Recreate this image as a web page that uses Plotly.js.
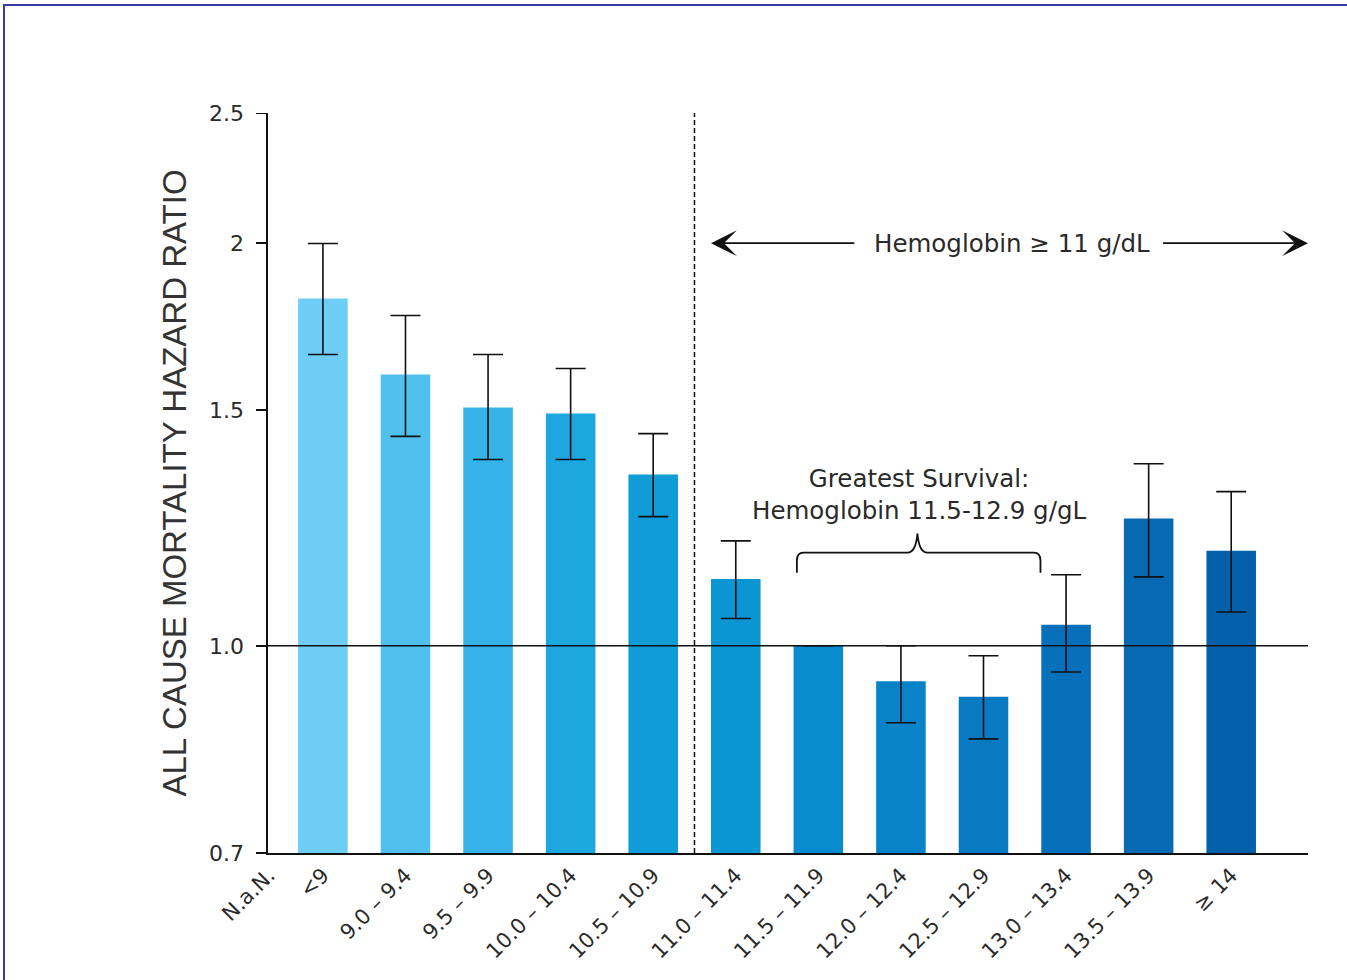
<!DOCTYPE html>
<html>
<head>
<meta charset="utf-8">
<script src="https://cdn.plot.ly/plotly-3.0.1.min.js"></script>
<style>
  html, body { margin: 0; padding: 0; background: #ffffff; }
  #chart { width: 1347px; height: 980px; }
  #frame { position: absolute; left: 3px; top: 4px; width: 1400px; height: 1000px;
           border-top: 2px solid #3b3ba6; border-left: 2px solid #3b3ba6; pointer-events: none; }
</style>
</head>
<body>
<div id="chart"></div>
<div id="frame"></div>
<script>
// ---- data ----
const tickLabels = ['N.a.N.', '<9', '9.0 – 9.4', '9.5 – 9.9', '10.0 – 10.4', '10.5 – 10.9',
  '11.0 – 11.4', '11.5 – 11.9', '12.0 – 12.4', '12.5 – 12.9', '13.0 – 13.4', '13.5 – 13.9', '≥ 14'];
const categories = ['<9', '9.0 – 9.4', '9.5 – 9.9', '10.0 – 10.4', '10.5 – 10.9',
  '11.0 – 11.4', '11.5 – 11.9', '12.0 – 12.4', '12.5 – 12.9', '13.0 – 13.4', '13.5 – 13.9', '≥ 14'];
const hazardRatio = [1.818, 1.595, 1.507, 1.492, 1.343, 1.122, 1.000, 0.941, 0.916, 1.037, 1.245, 1.178];
const ciUpper     = [1.999, 1.766, 1.651, 1.612, 1.441, 1.198, null, 1.000, 0.983, 1.130, 1.368, 1.304];
const ciLower     = [1.651, 1.434, 1.378, 1.378, 1.249, 1.048, null, 0.876, 0.852, 0.956, 1.126, 1.060];
const barColors = ['#6dcdf4', '#50c1ee', '#35b3e6', '#1ca8df', '#0f9cd7', '#0b95d3',
  '#098ccf', '#0883c8', '#077ac1', '#0671ba', '#0669b2', '#0560aa'];
const yTickVals = [0.7, 1.0, 1.5, 2, 2.5];
const yTickText = ['0.7', '1.0', '1.5', '2', '2.5'];

// ---- build ----
const xPos = categories.map((c, i) => i + 1);
const xTickVals = [0.345].concat(xPos);
const errPlus = hazardRatio.map((v, i) => ciUpper[i] === null ? null : ciUpper[i] - v);
const errMinus = hazardRatio.map((v, i) => ciLower[i] === null ? null : v - ciLower[i]);

const trace = {
  type: 'bar',
  x: xPos,
  y: hazardRatio,
  width: 0.6,
  text: categories,
  hoverinfo: 'text+y',
  textposition: 'none',
  marker: { color: barColors, line: { width: 0 } },
  error_y: { type: 'data', symmetric: false, array: errPlus, arrayminus: errMinus,
             color: '#111111', thickness: 1.6, width: 15 },
  showlegend: false
};

const L = Math.log10;
const fontMain = 'DejaVu Sans, Liberation Sans, Arial, sans-serif';
const txtColor = '#2a2a2a';

// brace geometry (data units)
const bx0 = 6.74, bx1 = 9.69, bm = 8.2;
const yTip = 1.134, yBase = 1.174, yPeak = 1.213, yBend = 1.158;
const bracePath = `M${bx0},${yTip} L${bx0},${yBend} Q${bx0},${yBase} ${bx0 + 0.08},${yBase} ` +
  `L${bm - 0.12},${yBase} Q${bm - 0.02},${yBase} ${bm},${yPeak} ` +
  `Q${bm + 0.02},${yBase} ${bm + 0.12},${yBase} L${bx1 - 0.08},${yBase} ` +
  `Q${bx1},${yBase} ${bx1},${yBend} L${bx1},${yTip}`;

const layout = {
  width: 1347, height: 980,
  margin: { l: 268, r: 39, t: 113, b: 127 },
  paper_bgcolor: 'rgba(0,0,0,0)',
  plot_bgcolor: 'rgba(0,0,0,0)',
  bargap: 0.4,
  font: { family: fontMain, color: txtColor, size: 20 },
  xaxis: {
    type: 'linear',
    range: [0.335, 12.93],
    tickmode: 'array', tickvals: xTickVals, ticktext: tickLabels,
    tickangle: -45, ticks: '', showgrid: false, zeroline: false,
    showline: true, linecolor: '#111111', linewidth: 1.6,
    tickfont: { family: fontMain, size: 21, color: '#2a2a2a' },
    fixedrange: true
  },
  yaxis: {
    type: 'log',
    range: [L(0.7), L(2.5) + 0.0004],
    tickmode: 'array', tickvals: yTickVals, ticktext: yTickText,
    ticks: 'outside', ticklen: 10, tickwidth: 1.6, tickcolor: '#111111',
    ticklabelstandoff: 8,
    showline: true, linecolor: '#111111', linewidth: 1.6,
    showgrid: false, zeroline: false,
    tickfont: { family: fontMain, size: 22, color: '#2a2a2a' },
    title: { text: 'ALL CAUSE MORTALITY HAZARD RATIO', standoff: 12,
             font: { family: 'Liberation Sans, Arial, sans-serif', size: 33, color: '#333333' } },
    fixedrange: true
  },
  shapes: [
    { type: 'line', xref: 'paper', yref: 'y', x0: 0, x1: 1, y0: 1.0, y1: 1.0,
      line: { color: '#111111', width: 1.6 } },
    { type: 'line', xref: 'x', yref: 'paper', x0: 5.5, x1: 5.5, y0: 0, y1: 1,
      line: { color: '#111111', width: 1.5, dash: '5px,3px' } },
    { type: 'path', xref: 'x', yref: 'y', path: bracePath,
      line: { color: '#111111', width: 1.8 } }
  ],
  annotations: [
    { xref: 'x', yref: 'y', x: 5.70, y: L(2.0), axref: 'x', ayref: 'y', ax: 7.49, ay: L(2.0),
      text: ' ', showarrow: true, arrowhead: 3, arrowsize: 2.4, arrowwidth: 1.8, arrowcolor: '#111111' },
    { xref: 'x', yref: 'y', x: 12.93, y: L(2.0), axref: 'x', ayref: 'y', ax: 11.12, ay: L(2.0),
      text: ' ', showarrow: true, arrowhead: 3, arrowsize: 2.4, arrowwidth: 1.8, arrowcolor: '#111111' },
    { xref: 'x', yref: 'y', x: 9.35, y: L(2.0), text: 'Hemoglobin ≥ 11 g/dL', showarrow: false,
      font: { family: fontMain, size: 24.5, color: txtColor }, xanchor: 'center', yanchor: 'middle' },
    { xref: 'x', yref: 'y', x: 8.22, y: L(1.297), text: 'Greatest Survival:<br>Hemoglobin 11.5-12.9 g/gL',
      showarrow: false, align: 'center',
      font: { family: fontMain, size: 24.5, color: txtColor }, xanchor: 'center', yanchor: 'middle' }
  ],
  showlegend: false
};

Plotly.newPlot('chart', [trace], layout, { displayModeBar: false, staticPlot: true });
</script>
</body>
</html>
